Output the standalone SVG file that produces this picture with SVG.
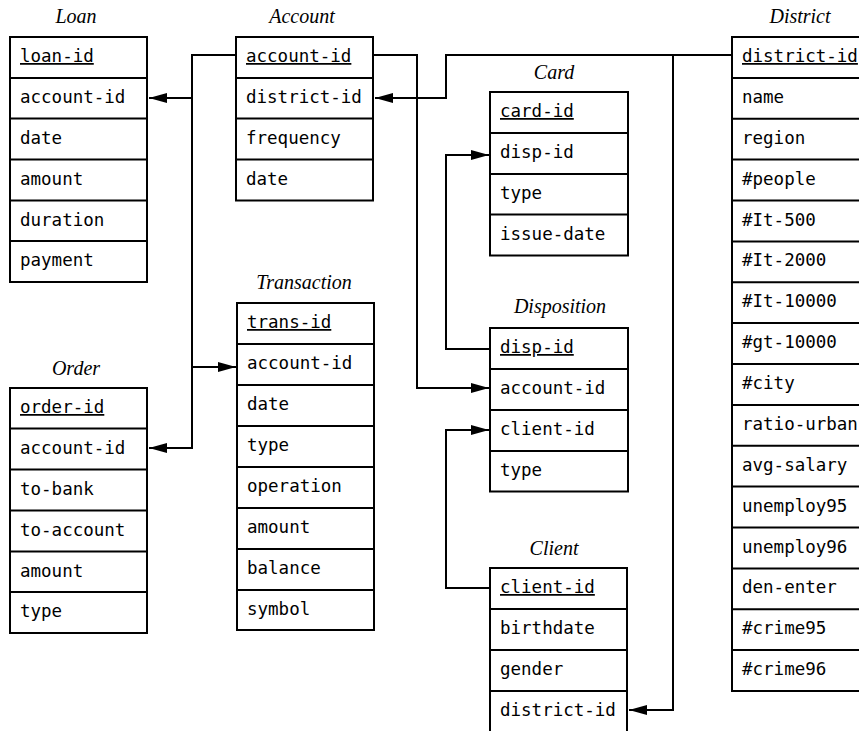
<svg xmlns="http://www.w3.org/2000/svg" width="859" height="731" viewBox="0 0 859 731">
<style>
.box{fill:#fff;stroke:#000;stroke-width:2}
.sep{stroke:#000;stroke-width:2}
.f{font-family:"DejaVu Sans Mono","Liberation Mono",monospace;font-size:17.5px;fill:#000}
.pk{text-decoration:underline}
.t{font-family:"Liberation Serif","Times New Roman",serif;font-style:italic;font-size:20px;fill:#000;text-anchor:middle}
.c{fill:none;stroke:#000;stroke-width:2}
</style>
<defs>
<marker id="arr" markerUnits="userSpaceOnUse" markerWidth="19" markerHeight="12" refX="18" refY="5" orient="auto">
<path d="M0,0 L18,5 L0,10 z" fill="#000"/>
</marker>
</defs>
<g id="connectors">
<path class="c" d="M236,55 H192 V448 H149" marker-end="url(#arr)"/>
<path class="c" d="M192,98 H149" marker-end="url(#arr)"/>
<path class="c" d="M192,367 H236" marker-end="url(#arr)"/>
<path class="c" d="M373,55 H417 V388 H489" marker-end="url(#arr)"/>
<path class="c" d="M732,55 H446 V98 H375" marker-end="url(#arr)"/>
<path class="c" d="M673,55 V710 H629" marker-end="url(#arr)"/>
<path class="c" d="M490,349 H446 V155 H489" marker-end="url(#arr)"/>
<path class="c" d="M490,588 H446 V430 H489" marker-end="url(#arr)"/>
</g>
<g id="loan">
<text class="t" x="76" y="23">Loan</text>
<rect class="box" x="10" y="37" width="137" height="245"/>
<path class="sep" d="M10,78 H147 M10,118.5 H147 M10,159.5 H147 M10,200.5 H147 M10,241 H147"/>
<text class="f pk" x="20" y="62">loan-id</text>
<text class="f" x="20" y="103">account-id</text>
<text class="f" x="20" y="143.5">date</text>
<text class="f" x="20" y="184.5">amount</text>
<text class="f" x="20" y="225.5">duration</text>
<text class="f" x="20" y="266">payment</text>
</g>
<g id="account">
<text class="t" x="302" y="23">Account</text>
<rect class="box" x="236" y="37" width="137" height="163.5"/>
<path class="sep" d="M236,78 H373 M236,118.5 H373 M236,159.5 H373"/>
<text class="f pk" x="246" y="62">account-id</text>
<text class="f" x="246" y="103">district-id</text>
<text class="f" x="246" y="143.5">frequency</text>
<text class="f" x="246" y="184.5">date</text>
</g>
<g id="card">
<text class="t" x="554" y="79">Card</text>
<rect class="box" x="490" y="92" width="138" height="163.5"/>
<path class="sep" d="M490,133 H628 M490,174 H628 M490,214.5 H628"/>
<text class="f pk" x="500" y="117">card-id</text>
<text class="f" x="500" y="158">disp-id</text>
<text class="f" x="500" y="199">type</text>
<text class="f" x="500" y="239.5">issue-date</text>
</g>
<g id="transaction">
<text class="t" x="304" y="289">Transaction</text>
<rect class="box" x="237" y="303" width="137" height="327"/>
<path class="sep" d="M237,344 H374 M237,385 H374 M237,426 H374 M237,467 H374 M237,508 H374 M237,549 H374 M237,590 H374"/>
<text class="f pk" x="247" y="328">trans-id</text>
<text class="f" x="247" y="369">account-id</text>
<text class="f" x="247" y="410">date</text>
<text class="f" x="247" y="451">type</text>
<text class="f" x="247" y="492">operation</text>
<text class="f" x="247" y="533">amount</text>
<text class="f" x="247" y="574">balance</text>
<text class="f" x="247" y="615">symbol</text>
</g>
<g id="disposition">
<text class="t" x="560" y="313">Disposition</text>
<rect class="box" x="490" y="328" width="138" height="163.5"/>
<path class="sep" d="M490,369 H628 M490,410 H628 M490,451 H628"/>
<text class="f pk" x="500" y="353">disp-id</text>
<text class="f" x="500" y="394">account-id</text>
<text class="f" x="500" y="435">client-id</text>
<text class="f" x="500" y="476">type</text>
</g>
<g id="client">
<text class="t" x="554" y="555">Client</text>
<rect class="box" x="490" y="568" width="137" height="164"/>
<path class="sep" d="M490,609 H627 M490,650 H627 M490,691 H627"/>
<text class="f pk" x="500" y="593">client-id</text>
<text class="f" x="500" y="634">birthdate</text>
<text class="f" x="500" y="675">gender</text>
<text class="f" x="500" y="716">district-id</text>
</g>
<g id="order">
<text class="t" x="76" y="375">Order</text>
<rect class="box" x="10" y="388" width="137" height="245"/>
<path class="sep" d="M10,428.5 H147 M10,469.5 H147 M10,510.5 H147 M10,551.5 H147 M10,592 H147"/>
<text class="f pk" x="20" y="413">order-id</text>
<text class="f" x="20" y="453.5">account-id</text>
<text class="f" x="20" y="494.5">to-bank</text>
<text class="f" x="20" y="535.5">to-account</text>
<text class="f" x="20" y="576.5">amount</text>
<text class="f" x="20" y="617">type</text>
</g>
<g id="district">
<text class="t" x="800" y="23">District</text>
<rect class="box" x="732" y="37" width="140" height="654"/>
<path class="sep" d="M732,77.9 H872 M732,118.8 H872 M732,159.6 H872 M732,200.5 H872 M732,241.4 H872 M732,282.3 H872 M732,323.1 H872 M732,364 H872 M732,404.9 H872 M732,445.8 H872 M732,486.6 H872 M732,527.5 H872 M732,568.4 H872 M732,609.3 H872 M732,650.1 H872"/>
<text class="f pk" x="742" y="62">district-id</text>
<text class="f" x="742" y="102.9">name</text>
<text class="f" x="742" y="143.8">region</text>
<text class="f" x="742" y="184.6">#people</text>
<text class="f" x="742" y="225.5">#It-500</text>
<text class="f" x="742" y="266.4">#It-2000</text>
<text class="f" x="742" y="307.3">#It-10000</text>
<text class="f" x="742" y="348.1">#gt-10000</text>
<text class="f" x="742" y="389">#city</text>
<text class="f" x="742" y="429.9">ratio-urban</text>
<text class="f" x="742" y="470.8">avg-salary</text>
<text class="f" x="742" y="511.6">unemploy95</text>
<text class="f" x="742" y="552.5">unemploy96</text>
<text class="f" x="742" y="593.4">den-enter</text>
<text class="f" x="742" y="634.3">#crime95</text>
<text class="f" x="742" y="675.1">#crime96</text>
</g>
</svg>
